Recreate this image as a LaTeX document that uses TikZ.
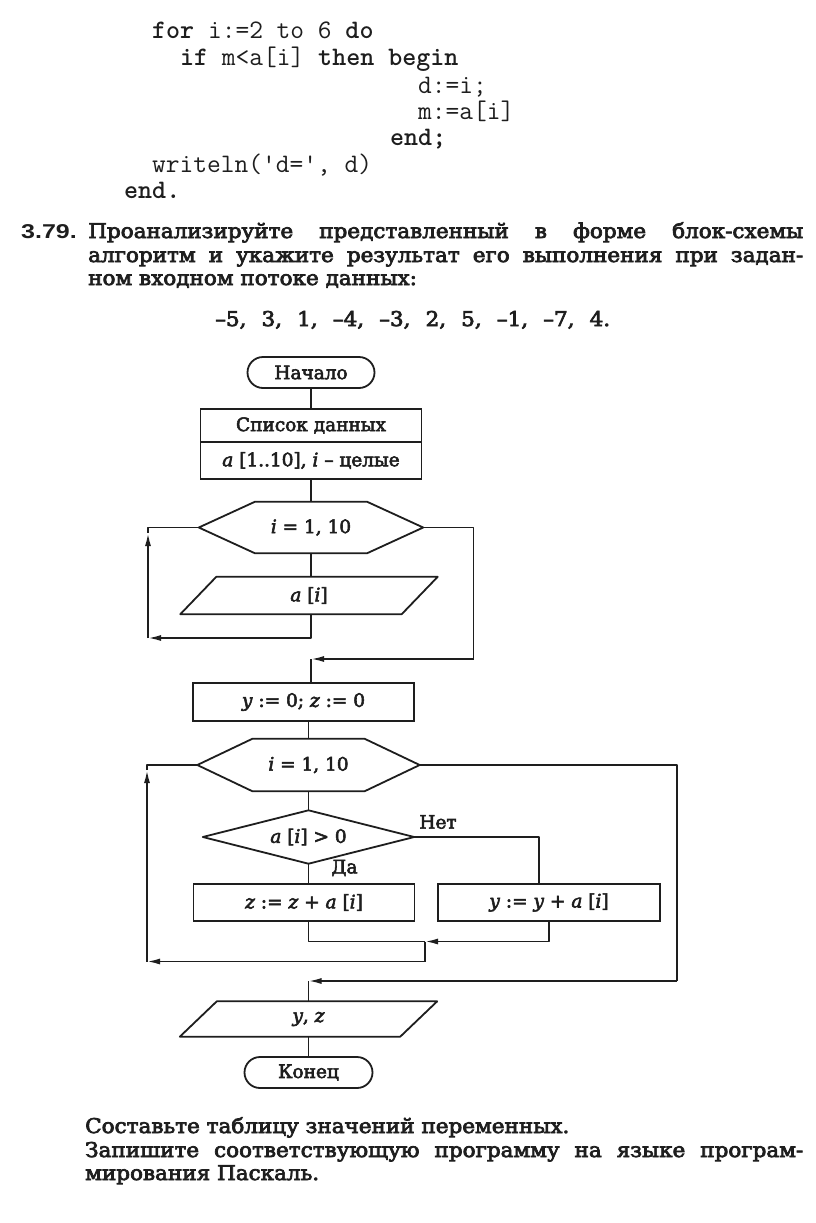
\documentclass[tikz,border=0pt]{standalone}
\usepackage{fontspec}
\usetikzlibrary{shapes.misc,arrows.meta}
\newfontfamily\bodyfont{DejaVu Serif}[FakeStretch=1.06,FakeBold=3.5]
\newfontfamily\chartfont{DejaVu Serif}[FakeStretch=1.0,FakeBold=3]
\newfontfamily\numfont{Liberation Sans}[FakeStretch=1.25]
\definecolor{ink}{RGB}{30,30,30}
\newcommand\myflow{\chartfont\fontsize{18.5pt}{22pt}\selectfont}
\newcommand\mytext{\bodyfont\fontsize{20.3pt}{24pt}\selectfont}
\newcommand\mycode{\ttfamily\fontsize{26.7pt}{30pt}\selectfont}
\tikzset{
  every node/.style={text=ink},
  ln/.style={draw=ink,line width=1.8pt,line join=round},
  arr/.style={-{Latex[length=13pt,width=6pt]}},
  term/.style={rounded rectangle,draw=ink,line width=1.8pt,minimum width=127pt,minimum height=31pt,inner sep=0pt,font=\myflow},
  blk/.style={rectangle,draw=ink,line width=1.8pt,inner sep=0pt,font=\myflow},
  ghost/.style={rectangle,inner sep=0pt,font=\myflow},
  lbl/.style={inner sep=0pt,font=\myflow},
  txt/.style={inner sep=0pt,anchor=base west,font=\mytext},
  code/.style={inner sep=0pt,anchor=base west,font=\mycode},
}
\begin{document}
\begin{tikzpicture}[x=1pt,y=-1pt]
\fill[white] (0,0) rectangle (816,1223);
\useasboundingbox (0,0) rectangle (816,1223);

% ---- code ----
\node[code] (c1) at (152,39) {\textbf{for} i:=2 to 6 \textbf{do}};
\node[code] (c2) at (180,66) {\textbf{if} m<a[i] \textbf{then begin}};
\node[code] (c3) at (418,93) {d:=i;};
\node[code] (c4) at (418,119) {m:=a[i]};
\node[code] (c5) at (390,145) {\textbf{end;}};
\node[code] (c6) at (152,172) {writeln('d=', d)};
\node[code] (c7) at (124,198) {\textbf{end.}};

% ---- task text ----
\node[inner sep=0pt,anchor=base west,font=\numfont\bfseries\fontsize{20pt}{22pt}\selectfont] (num) at (21,238) {3.79.};
\node[txt] (t1) at (88,238) {\hbox to 715pt{Проанализируйте\hfill представленный\hfill в\hfill форме\hfill блок-схемы}};
\node[txt] (t2) at (88,262) {\hbox to 715pt{алгоритм\hfill и\hfill укажите\hfill результат\hfill его\hfill выполнения\hfill при\hfill задан-}};
\node[txt] (t3) at (88,285) {ном входном потоке данных:};
\node[txt] (t4) at (215,326) {\hbox to 395pt{–5,\hfill 3,\hfill 1,\hfill –4,\hfill –3,\hfill 2,\hfill 5,\hfill –1,\hfill –7,\hfill 4.}};

% ---- flowchart ----
\node[term] (start) at (311,372.5) {Начало};
\node[blk,minimum width=221pt,minimum height=33pt] (list1) at (311,425.5) {Список данных};
\node[blk,minimum width=221pt,minimum height=37pt] (list2) at (311,460.5) {\textit{a} [1..10], \textit{i} – целые};

\node[ghost,minimum width=224pt,minimum height=51pt] (h1) at (311,527.5) {\textit{i} = 1, 10};
\draw[ln] (h1.west) -- ([xshift=56pt]h1.north west) -- ([xshift=-56pt]h1.north east) -- (h1.east)
  -- ([xshift=-56pt]h1.south east) -- ([xshift=56pt]h1.south west) -- cycle;

\node[ghost,minimum width=257pt,minimum height=37pt] (par1) at (309,595.5) {\textit{a} [\textit{i}]};
\draw[ln] ([xshift=36pt]par1.north west) -- (par1.north east) -- ([xshift=-36pt]par1.south east) -- (par1.south west) -- cycle;

\node[blk,minimum width=221pt,minimum height=38pt] (y0) at (303.5,702) {\textit{y} := 0; \textit{z} := 0};

\node[ghost,minimum width=222pt,minimum height=52pt] (h2) at (308.5,765) {\textit{i} = 1, 10};
\draw[ln] (h2.west) -- ([xshift=55pt]h2.north west) -- ([xshift=-55pt]h2.north east) -- (h2.east)
  -- ([xshift=-55pt]h2.south east) -- ([xshift=55pt]h2.south west) -- cycle;

\node[ghost,minimum width=211pt,minimum height=53pt] (dia) at (308.5,837) {\textit{a} [\textit{i}] > 0};
\draw[ln] (dia.west) -- (dia.north) -- (dia.east) -- (dia.south) -- cycle;

\node[blk,minimum width=221pt,minimum height=37pt] (zb) at (304,902.5) {\textit{z} := \textit{z} + \textit{a} [\textit{i}]};
\node[blk,minimum width=222pt,minimum height=37pt] (yb) at (549,902.5) {\textit{y} := \textit{y} + \textit{a} [\textit{i}]};

\node[ghost,minimum width=257pt,minimum height=35pt] (par2) at (308.5,1019) {\textit{y}, \textit{z}};
\draw[ln] ([xshift=37pt]par2.north west) -- (par2.north east) -- ([xshift=-37pt]par2.south east) -- (par2.south west) -- cycle;

\node[term,minimum width=128pt] (fin) at (308.5,1072.5) {Конец};

\node[lbl] (no) at (438,822) {Нет};
\node[lbl] (yes) at (344.5,868) {Да};

% ---- coordinates ----
\coordinate (l1b) at (148,638);
\coordinate (l1a) at (148,533);
\coordinate (l1t) at (148,527.5);
\coordinate (r1t) at (473.5,527.5);
\coordinate (r1b) at (473.5,659);
\coordinate (j1) at (311,659);
\coordinate (nc) at (539,837);
\coordinate (zc) at (308.5,941.5);
\coordinate (yc) at (549,941.5);
\coordinate (m1) at (425,941.5);
\coordinate (m2) at (425,961.5);
\coordinate (l2b) at (147,961.5);
\coordinate (l2a) at (147,770);
\coordinate (l2t) at (147,765);
\coordinate (r2t) at (677,765);
\coordinate (r2b) at (677,981);
\coordinate (j3) at (308.5,981);

% ---- connectors ----
\draw[ln] (start.south) -- (list1.north);
\draw[ln] (list2.south) -- (h1.north);
\draw[ln] (h1.south) -- (h1.south |- par1.north);
\draw[ln,arr] (par1.south -| h1.south) |- (l1b);
\draw[ln,arr] (l1b) -- (l1a);
\draw[ln] (l1a) -- (l1t) -- (h1.west);
\draw[ln] (h1.east) -- (r1t) -- (r1b);
\draw[ln,arr] (r1b) -- (j1);
\draw[ln] (j1) -- (j1 |- y0.north);
\draw[ln] (y0.south -| h2.north) -- (h2.north);
\draw[ln] (h2.south) -- (dia.north);
\draw[ln] (dia.south) -- (dia.south |- zb.north);
\draw[ln] (dia.east) -- (nc) -- (nc |- yb.north);
\draw[ln] (zb.south -| zc) -- (zc) -- (m1);
\draw[ln,arr] (yb.south) -- (yc) -- (m1);
\draw[ln] (m1) -- (m2);
\draw[ln,arr] (m2) -- (l2b);
\draw[ln,arr] (l2b) -- (l2a);
\draw[ln] (l2a) -- (l2t) -- (h2.west);
\draw[ln] (h2.east) -- (r2t) -- (r2b);
\draw[ln,arr] (r2b) -- (j3);
\draw[ln] (j3) -- (par2.north);
\draw[ln] (par2.south) -- (fin.north);

% ---- bottom text ----
\node[txt] (b1) at (85,1133) {Составьте таблицу значений переменных.};
\node[txt] (b2) at (85,1157) {\hbox to 718pt{Запишите\hfill соответствующую\hfill программу\hfill на\hfill языке\hfill програм-}};
\node[txt] (b3) at (85,1180) {мирования Паскаль.};
\end{tikzpicture}
\end{document}
